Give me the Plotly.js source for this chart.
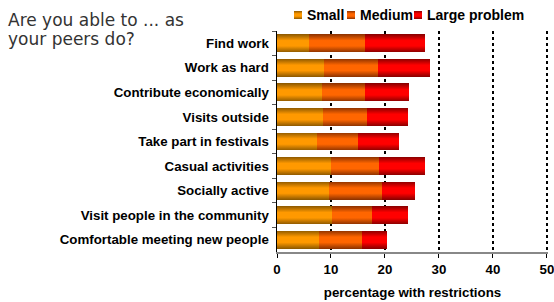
<!DOCTYPE html>
<html><head><meta charset="utf-8">
<script src="https://cdn.plot.ly/plotly-3.0.1.min.js"></script>
<style>body{margin:0;background:#fff}#c{width:554px;height:302px}</style>
</head><body><div id="c"></div>
<script>
const categories = ["Find work","Work as hard","Contribute economically","Visits outside","Take part in festivals","Casual activities","Socially active","Visit people in the community","Comfortable meeting new people"];
const small  = [5.9, 8.7, 8.3, 8.5, 7.4, 10.0, 9.6, 10.2, 7.7];
const medium = [10.4, 10.0, 8.0, 8.2, 7.6, 8.9, 9.8, 7.4, 8.0];
const large  = [11.1, 9.6, 8.1, 7.5, 7.6, 8.5, 6.1, 6.6, 4.7];
const seriesNames = ["Small","Medium","Large problem"];
const xTicks = [0,10,20,30,40,50];

const bright = ['#FF9900','#FF6600','#FF0000'];
const dark   = ['#8F5A00','#8F3300','#8A0000'];

const L = 277, T = 31, W = 271, H = 221;
const px = p => (p - L) / W;
const py = p => 1 + (T - p) / H;

const mk = (i, vals) => ({
  type:'bar', orientation:'h', name:seriesNames[i], x:vals, y:categories,
  marker:{color:bright[i], line:{width:0}}, hoverinfo:'x+y'
});
const data = [mk(0, small), mk(1, medium), mk(2, large)];

// custom legend
const legendSw = [294, 347, 414];
const legendTx = [306, 359, 426];
const shapes = [], annotations = [];
for (let i = 0; i < 3; i++) {
  shapes.push({type:'rect', xref:'paper', yref:'paper', x0:px(legendSw[i]), x1:px(legendSw[i]+8),
    y0:py(19), y1:py(11), fillcolor:bright[i], line:{width:0}});
  annotations.push({text:seriesNames[i], xref:'paper', yref:'paper', x:px(legendTx[i]), y:py(15),
    xanchor:'left', yanchor:'middle', showarrow:false, borderpad:0,
    font:{family:'Liberation Sans, Arial, sans-serif', size:14, weight:'bold', color:'#000'}});
}
annotations.push({text:'Are you able to ... as', xref:'paper', yref:'paper', x:px(7), y:py(20),
  xanchor:'left', yanchor:'middle', showarrow:false, borderpad:0,
  font:{family:'DejaVu Sans, sans-serif', size:17, color:'#333'}});
annotations.push({text:'your peers do?', xref:'paper', yref:'paper', x:px(7), y:py(39),
  xanchor:'left', yanchor:'middle', showarrow:false, borderpad:0,
  font:{family:'DejaVu Sans, sans-serif', size:17, color:'#333'}});

const layout = {
  width:554, height:302, margin:{l:L, r:554-L-W, t:T, b:302-T-H},
  barmode:'stack', bargap:0.27, paper_bgcolor:'#fff', plot_bgcolor:'#fff',
  font:{family:'Liberation Sans, Arial, sans-serif', size:13.3, color:'#000'},
  showlegend:false,
  xaxis:{range:[0,50.2], tickvals:xTicks, ticktext:xTicks.map(String), showgrid:true,
    gridcolor:'#000', griddash:'dot', gridwidth:1.3, zeroline:false, ticklabeloverflow:'allow',
    showline:true, linecolor:'#888', linewidth:2, ticks:'outside', ticklen:4, tickcolor:'#000',
    tickfont:{size:13.3, weight:'bold'},
    title:{text:'percentage with restrictions', font:{size:13.3, weight:'bold'}, standoff:12}},
  yaxis:{autorange:'reversed', showline:true, linecolor:'#000', linewidth:1.5,
    ticks:'outside', ticklen:4, tickson:'boundaries', tickcolor:'#555',
    ticklabelstandoff:4, tickfont:{size:13.3, weight:'bold'}, showgrid:false},
  shapes:shapes, annotations:annotations
};
Plotly.newPlot('c', data, layout, {displayModeBar:false, staticPlot:true}).then(gd => {
  const svg = gd.querySelector('svg.main-svg');
  const ns = 'http://www.w3.org/2000/svg';
  let defs = svg.querySelector('defs');
  if (!defs) { defs = document.createElementNS(ns, 'defs'); svg.insertBefore(defs, svg.firstChild); }
  for (let i = 0; i < 3; i++) {
    const g = document.createElementNS(ns, 'linearGradient');
    g.setAttribute('id', 'barg' + i);
    g.setAttribute('x1', '0'); g.setAttribute('y1', '0'); g.setAttribute('x2', '0'); g.setAttribute('y2', '1');
    [[0, dark[i]], [0.35, bright[i]], [0.65, bright[i]], [1, dark[i]]].forEach(([o, c]) => {
      const s = document.createElementNS(ns, 'stop');
      s.setAttribute('offset', o); s.setAttribute('stop-color', c);
      g.appendChild(s);
    });
    defs.appendChild(g);
  }
  gd.querySelectorAll('.barlayer .trace').forEach((tr, i) => {
    tr.querySelectorAll('path').forEach(p => { p.style.fill = 'url(#barg' + i + ')'; });
  });
  gd.querySelectorAll('.shapelayer path').forEach((p, i) => {
    if (i < 3) p.style.fill = 'url(#barg' + i + ')';
  });
});
</script></body></html>
